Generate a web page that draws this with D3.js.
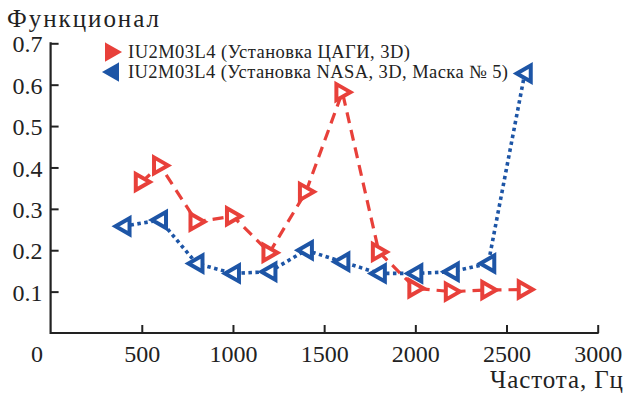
<!DOCTYPE html>
<html><head><meta charset="utf-8">
<script src="https://cdn.jsdelivr.net/npm/d3@7"></script>
<style>body{margin:0;background:#fff}svg{display:block}svg text{fill:#222}</style>
</head><body>
<script>
const redX = [500,600,800,1000,1200,1400,1600,1800,2000,2200,2400,2600];
const redY = [0.365,0.405,0.269,0.282,0.194,0.341,0.582,0.196,0.108,0.100,0.104,0.105];
const blueX = [400,600,800,1000,1200,1400,1600,1800,2000,2200,2400,2600];
const blueY = [0.258,0.273,0.168,0.144,0.148,0.200,0.172,0.144,0.144,0.148,0.168,0.627];
const xTicks = [0,500,1000,1500,2000,2500,3000];
const yTicks = [0.1,0.2,0.3,0.4,0.5,0.6,0.7];
const seriesNames = ["IU2M03L4 (Установка ЦАГИ, 3D)","IU2M03L4 (Установка NASA, 3D, Маска № 5)"];
const yTitle = "Функционал", xTitle = "Частота, Гц";

const W=626,H=395;
const FONT="'Liberation Serif','DejaVu Serif','Times New Roman',serif";
const svg=d3.select("body").append("svg").attr("width",W).attr("height",H);
const x=d3.scaleLinear().domain([0,3000]).range([50.6,597.7]);
const y=d3.scaleLinear().domain([0,0.7]).range([333,43.3]);
const red="#e8403a", blue="#1d55a6", ax="#222";

// axes
const gx=svg.append("g").attr("transform","translate(0,333)")
  .call(d3.axisBottom(x).tickValues(xTicks).tickSize(-8).tickPadding(29).tickFormat(d3.format("d")));
gx.attr("font-family",FONT);
gx.select(".domain").attr("stroke",ax).attr("stroke-width",2.2).attr("d","M50.6,0H598.7");
gx.selectAll(".tick line").attr("stroke",ax).attr("stroke-width",2);
gx.selectAll(".tick").filter(d=>d===0).select("line").remove();
gx.selectAll(".tick text").attr("font-size",24).attr("fill","#222").attr("dy","0")
  .attr("dx",d=>d===0?-14:0);
const gy=svg.append("g").attr("transform","translate(50.6,0)")
  .call(d3.axisLeft(y).tickValues(yTicks).tickSize(-8).tickPadding(8).tickFormat(d3.format(".1f")));
gy.attr("font-family",FONT);
gy.select(".domain").attr("stroke",ax).attr("stroke-width",2.2).attr("d","M0,42.3V334");
gy.selectAll(".tick line").attr("stroke",ax).attr("stroke-width",2);
gy.selectAll(".tick text").attr("font-size",24).attr("fill","#222").attr("dy","0.36em");

svg.append("text").attr("x",7).attr("y",27).attr("font-size",25).attr("font-family",FONT)
  .attr("textLength",152).attr("lengthAdjust","spacing").text(yTitle);
svg.append("text").attr("x",490).attr("y",388).attr("font-size",25).attr("font-family",FONT)
  .attr("textLength",133).attr("lengthAdjust","spacing").text(xTitle);

const line=d3.line().x(d=>x(d[0])).y(d=>y(d[1]));
const redD=redX.map((v,i)=>[v,redY[i]]), blueD=blueX.map((v,i)=>[v,blueY[i]]);
svg.append("path").attr("d",line(redD)).attr("fill","none").attr("stroke",red).attr("stroke-width",3.2).attr("stroke-dasharray","11,7");
svg.append("path").attr("d",line(blueD)).attr("fill","none").attr("stroke",blue).attr("stroke-width",3.6).attr("stroke-dasharray","3.5,3.5");

function tri(dir){ // dir 1 right, -1 left
  const s=8;
  return `M${-s*0.75*dir},${-s}L${s*dir},0L${-s*0.75*dir},${s}Z`;
}
function markers(data,color,dir){
  svg.append("g").selectAll("path").data(data).join("path")
    .attr("transform",d=>`translate(${x(d[0])},${y(d[1])})`)
    .attr("d",tri(dir)).attr("fill","#fff").attr("stroke",color).attr("stroke-width",4).attr("stroke-linejoin","miter");
}
markers(redD,red,1);
markers(blueD,blue,-1);

// legend
const leg=[{c:red,d:1,y:52,w:282},{c:blue,d:-1,y:72,w:380}];
leg.forEach((l,i)=>{
  svg.append("path").attr("transform",`translate(112,${l.y})`).attr("d",tri(l.d)).attr("fill",l.c).attr("stroke",l.c).attr("stroke-width",2);
  svg.append("text").attr("x",128).attr("y",l.y+5.5).attr("font-size",18.5).attr("font-family",FONT)
    .attr("textLength",l.w).attr("lengthAdjust","spacing").text(seriesNames[i]);
});
</script>
</body></html>
